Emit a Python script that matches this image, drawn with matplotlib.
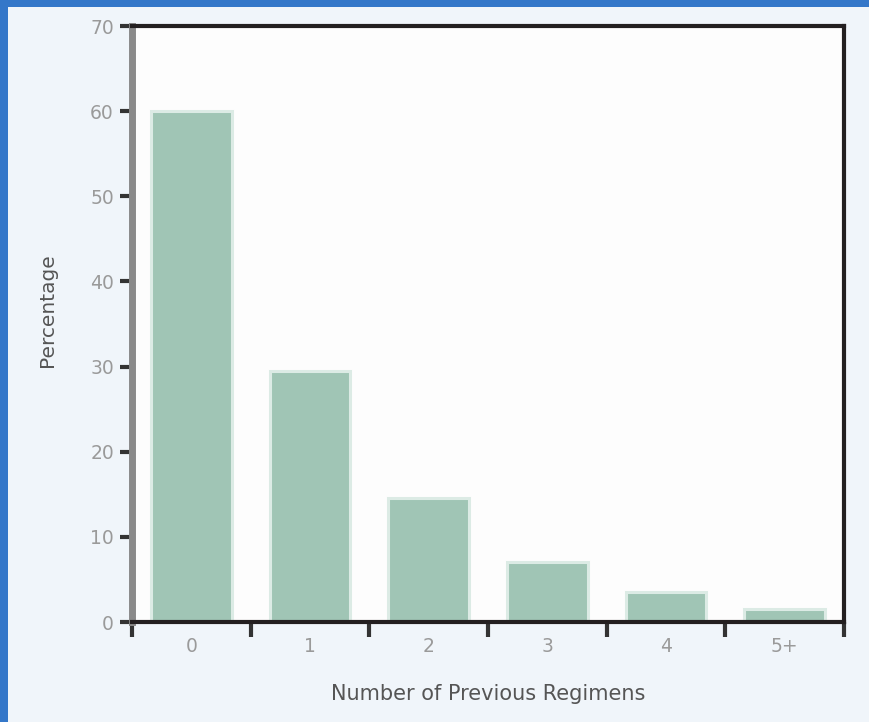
import matplotlib
matplotlib.use("Agg")
import matplotlib.pyplot as plt
from matplotlib.patches import Rectangle

categories = ["0", "1", "2", "3", "4", "5+"]
percentages = [60, 29.5, 14.6, 7.1, 3.5, 1.5]
yticks = [0, 10, 20, 30, 40, 50, 60, 70]

fig = plt.figure(figsize=(8.7, 7.22), dpi=100)
fig.patch.set_facecolor("#f0f5fa")
# blue border strips (top and left)
fig.patches.append(Rectangle((0, 1 - 7/722), 1, 7/722, transform=fig.transFigure,
                             facecolor="#3477c9", edgecolor="none", zorder=0))
fig.patches.append(Rectangle((0, 0), 8/870, 1, transform=fig.transFigure,
                             facecolor="#3477c9", edgecolor="none", zorder=0))

ax = fig.add_axes([132/870, 100/722, (844-132)/870, (622-26)/722])
ax.set_facecolor("#fdfdfd")

x = list(range(len(categories)))
ax.bar(x, percentages, width=0.68, color="#a0c5b5", edgecolor="#dcebe5",
       linewidth=2.2, zorder=2)

ax.set_xlim(-0.5, len(categories) - 0.5)
ax.set_ylim(0, 70)

# ticks at category boundaries, labels at centers
ax.set_xticks([i - 0.5 for i in range(len(categories) + 1)])
ax.set_xticklabels([])
ax.set_xticks(x, minor=True)
ax.set_xticklabels(categories, minor=True)
ax.tick_params(axis="x", which="major", direction="out", length=11, width=3,
               color="#333333")
ax.tick_params(axis="x", which="minor", length=0, pad=11, labelsize=13.5,
               labelcolor="#9a9a9a")

ax.set_yticks(yticks)
ax.set_yticklabels([str(v) for v in yticks])
ax.tick_params(axis="y", direction="out", length=9, width=3, color="#333333",
               labelsize=13.5, labelcolor="#9a9a9a", pad=4)

for side in ["top", "right", "bottom"]:
    ax.spines[side].set_color("#231f20")
    ax.spines[side].set_linewidth(3)
ax.spines["left"].set_color("#8a8a8a")
ax.spines["left"].set_linewidth(5)

ax.set_xlabel("Number of Previous Regimens", fontsize=15, color="#555555",
              labelpad=20)
ax.set_ylabel("Percentage", fontsize=14.5, color="#555555")
ax.yaxis.set_label_coords(-0.105, 0.523)

fig.savefig("out.png", dpi=100, facecolor=fig.get_facecolor())
